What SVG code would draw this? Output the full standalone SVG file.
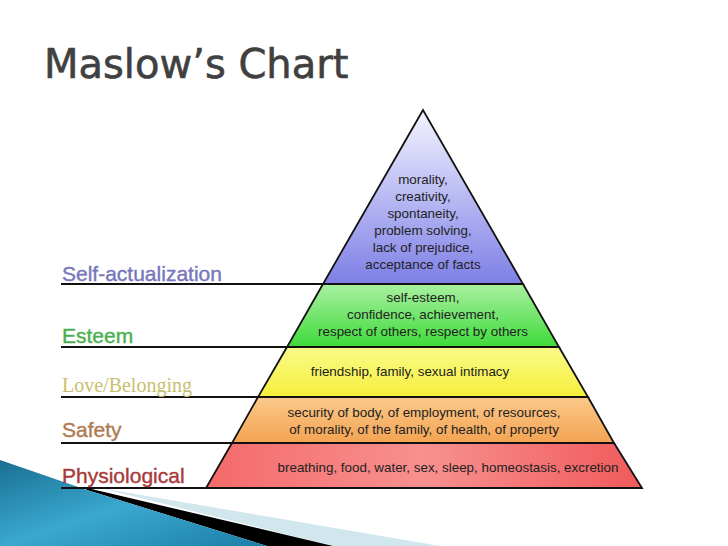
<svg xmlns="http://www.w3.org/2000/svg" width="728" height="546" viewBox="0 0 728 546">
<defs>
<linearGradient id="gp" x1="0" y1="0" x2="0" y2="1"><stop offset="0" stop-color="#f4f4ff"/><stop offset="1" stop-color="#7d7fe6"/></linearGradient>
<linearGradient id="gg" x1="0" y1="0" x2="0" y2="1"><stop offset="0" stop-color="#a8f0a0"/><stop offset="1" stop-color="#3fdb3a"/></linearGradient>
<linearGradient id="gy" x1="0" y1="0" x2="0" y2="1"><stop offset="0" stop-color="#fbfb8a"/><stop offset="1" stop-color="#f5ef3a"/></linearGradient>
<linearGradient id="go" x1="0" y1="0" x2="0" y2="1"><stop offset="0" stop-color="#fbc98a"/><stop offset="1" stop-color="#f4a352"/></linearGradient>
<linearGradient id="gr" x1="0" y1="0" x2="1" y2="0"><stop offset="0" stop-color="#f46a6a"/><stop offset="0.5" stop-color="#f89090"/><stop offset="1" stop-color="#f05a5a"/></linearGradient>
<linearGradient id="gb" x1="0" y1="0" x2="1" y2="1"><stop offset="0" stop-color="#1a6f92"/><stop offset="0.5" stop-color="#3aa8cf"/><stop offset="1" stop-color="#1b7fa8"/></linearGradient>
<style>
.t{font-family:"Liberation Sans",Arial,sans-serif;font-size:13.4px;fill:#222;text-anchor:middle}
.l{font-family:"Liberation Sans",Arial,sans-serif;font-size:21px;stroke-width:0.4px}
.ln{stroke:#111;stroke-width:2;fill:none}
.b{stroke:#111;stroke-width:1.8}
</style>
</defs>
<rect width="728" height="546" fill="#fff"/>
<text x="44" y="78" font-family="DejaVu Sans,sans-serif" font-size="40" fill="#404040" stroke="#404040" stroke-width="0.6">Maslow’s Chart</text>
<g id="decor">
<polygon points="100,488 440,546 333,546" fill="#d2e6ee"/>
<polygon points="83,487 333,546 267,546 87,490" fill="#000"/>
<polygon points="0,460 87,490 267,546 0,546" fill="url(#gb)"/>
</g>
<g id="connectors">
<line class="ln" x1="61" y1="284" x2="323" y2="284"/>
<line class="ln" x1="61" y1="347" x2="287" y2="347"/>
<line class="ln" x1="61" y1="397" x2="258" y2="397"/>
<line class="ln" x1="61" y1="443" x2="232" y2="443"/>
<line class="ln" x1="61" y1="488" x2="206" y2="488"/>
</g>
<g id="self-actualization">
<polygon class="b" points="423,110 323,284 523,284" fill="url(#gp)"/>
<text class="t" x="423" y="184">morality,</text>
<text class="t" x="423" y="201">creativity,</text>
<text class="t" x="423" y="218">spontaneity,</text>
<text class="t" x="423" y="235">problem solving,</text>
<text class="t" x="423" y="252">lack of prejudice,</text>
<text class="t" x="423" y="269">acceptance of facts</text>
<text class="l" x="62" y="281" fill="#7777bb" stroke="#7777bb">Self-actualization</text>
</g>
<g id="esteem">
<polygon class="b" points="323,284 523,284 559,347 287,347" fill="url(#gg)"/>
<text class="t" x="423" y="302">self-esteem,</text>
<text class="t" x="423" y="319">confidence, achievement,</text>
<text class="t" x="423" y="336">respect of others, respect by others</text>
<text class="l" x="62" y="343" fill="#4caf50" stroke="#4caf50">Esteem</text>
</g>
<g id="love">
<polygon class="b" points="287,347 559,347 588,397 258,397" fill="url(#gy)"/>
<text class="t" x="410" y="376">friendship, family, sexual intimacy</text>
<text x="62" y="392" font-family="Liberation Serif,serif" font-size="20" fill="#c8c070">Love/Belonging</text>
</g>
<g id="safety">
<polygon class="b" points="258,397 588,397 614,443 232,443" fill="url(#go)"/>
<text class="t" x="424" y="417">security of body, of employment, of resources,</text>
<text class="t" x="424" y="434">of morality, of the family, of health, of property</text>
<text class="l" x="62" y="437" fill="#b07a50" stroke="#b07a50">Safety</text>
</g>
<g id="physiological">
<polygon class="b" points="232,443 614,443 642,488 206,488" fill="url(#gr)"/>
<text class="t" x="448" y="472">breathing, food, water, sex, sleep, homeostasis, excretion</text>
<text class="l" x="62" y="483" fill="#a83a3a" stroke="#a83a3a">Physiological</text>
</g>
</svg>
